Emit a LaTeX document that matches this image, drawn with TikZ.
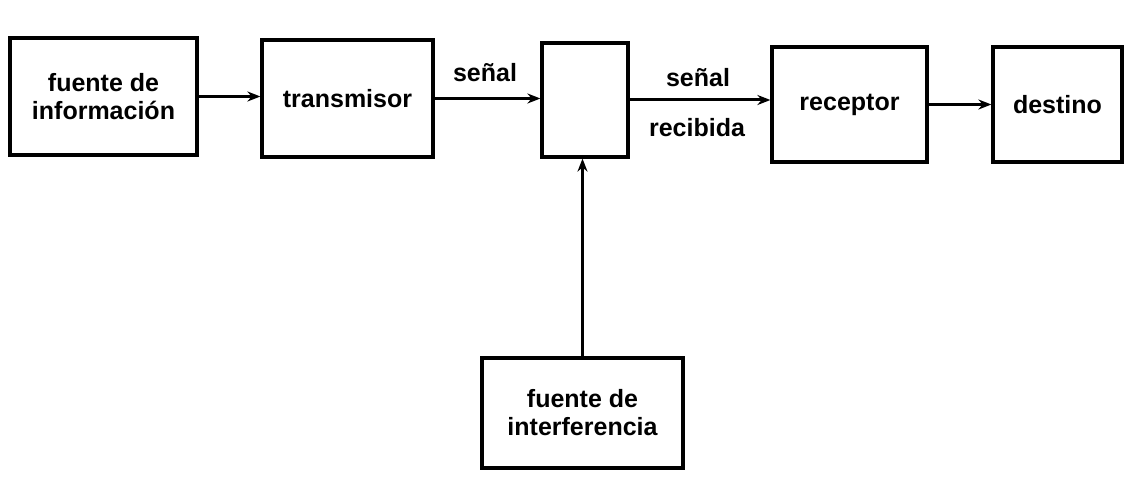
\documentclass[tikz,border=0pt]{standalone}
\usepackage{fontspec}
\setmainfont{Liberation Sans}
\usetikzlibrary{arrows.meta}
\begin{document}
\begin{tikzpicture}[x=1pt,y=1pt,
  blk/.style={draw, line width=3.2pt, rectangle, inner sep=0pt, align=center,
    font=\bfseries\fontsize{25}{28}\selectfont},
  conn/.style={line width=3pt, -{Stealth[length=13pt,width=10pt]}},
  lbl/.style={font=\bfseries\fontsize{25}{28}\selectfont, inner sep=0pt}]
\useasboundingbox (0,0) rectangle (1129,479);
\node[blk, minimum width=187pt, minimum height=117pt] (b1) at (103.5,382.5) {fuente de\\información};
\node[blk, minimum width=171pt, minimum height=117pt] (b2) at (347.5,380.5) {transmisor};
\node[blk, minimum width=86pt, minimum height=114pt] (b3) at (585,379) {};
\node[blk, minimum width=155pt, minimum height=115pt] (b4) at (849.5,374.5) {receptor};
\node[blk, minimum width=129pt, minimum height=115pt] (b5) at (1057.5,374.5) {destino};
\node[blk, minimum width=201pt, minimum height=110pt] (b6) at (582.5,66) {fuente de\\interferencia};
\draw[conn] (b1.east) -- (b1.east -| b2.west);
\draw[conn] (b2.east) -- (b2.east -| b3.west);
\draw[conn] (b3.east) -- (b3.east -| b4.west);
\draw[conn] (b4.east) -- (b4.east -| b5.west);
\draw[conn] (b6.north) -- (b6.north |- b3.south);
\node[lbl] (l1) at (485,406) {señal};
\node[lbl] (l2) at (698,401) {señal};
\node[lbl] (l3) at (697,351) {recibida};
\end{tikzpicture}
\end{document}
